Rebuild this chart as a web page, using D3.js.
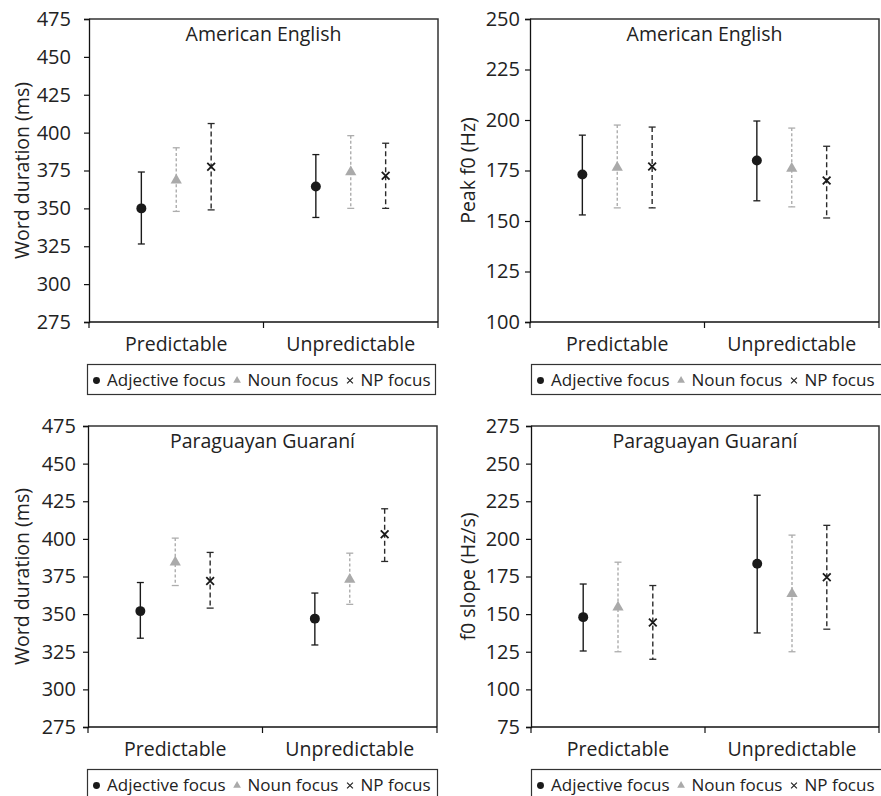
<!DOCTYPE html>
<html>
<head>
<meta charset="utf-8">
<script src="https://cdn.jsdelivr.net/npm/d3@7"></script>
<style>
  html, body { margin: 0; padding: 0; background: #fff; }
  svg { display: block; }
  text { font-family: "Open Sans", "Noto Sans", sans-serif; fill: #222; }
</style>
</head>
<body>
<svg id="chart" width="881" height="796"></svg>
<script>
// ---------------- data ----------------
const categories = ["Predictable", "Unpredictable"];
const seriesNames = ["Adjective focus", "Noun focus", "NP focus"];
const panelTitles = ["American English", "American English", "Paraguayan Guaraní", "Paraguayan Guaraní"];
const yLabels = ["Word duration (ms)", "Peak f0 (Hz)", "Word duration (ms)", "f0 slope (Hz/s)"];

const ticksDuration = [275, 300, 325, 350, 375, 400, 425, 450, 475];
const ticksPeakF0   = [100, 125, 150, 175, 200, 225, 250];
const ticksSlope    = [75, 100, 125, 150, 175, 200, 225, 250, 275];

// rows: Adjective focus, Noun focus, NP focus ; columns: Predictable, Unpredictable
const aeDurMean = [[350, 364.5], [368.5, 374], [377.5, 371.5]];
const aeDurLow  = [[326.5, 344], [348, 350], [349, 350]];
const aeDurHigh = [[374, 385.5], [390, 398], [406, 393]];

const aeF0Mean = [[173, 180], [176.5, 176], [177, 170]];
const aeF0Low  = [[153, 160], [156.5, 157], [156.5, 151.5]];
const aeF0High = [[192.5, 199.5], [197.5, 196], [196.5, 187]];

const pgDurMean = [[352, 347], [384.5, 373], [372, 403]];
const pgDurLow  = [[334, 329.5], [369, 356.5], [354, 385]];
const pgDurHigh = [[371, 364], [400.5, 390.5], [391, 420]];

const pgSlopeMean = [[148, 183.5], [154.5, 163.5], [144.5, 174.5]];
const pgSlopeLow  = [[125.5, 137.5], [125, 125], [120, 140]];
const pgSlopeHigh = [[170, 229], [184.5, 202.5], [169, 209]];

// ---------------- layout / styles ----------------
const panels = [
  { title: panelTitles[0], ylab: yLabels[0], ticks: ticksDuration, mean: aeDurMean, low: aeDurLow, high: aeDurHigh,
    l: 89, t: 19, r: 438, b: 322, pad: 13, labX: 22, legX: 87, legW: 348 },
  { title: panelTitles[1], ylab: yLabels[1], ticks: ticksPeakF0, mean: aeF0Mean, low: aeF0Low, high: aeF0High,
    l: 530, t: 19, r: 879, b: 322, pad: 5, labX: 468, legX: 531, legW: 360 },
  { title: panelTitles[2], ylab: yLabels[2], ticks: ticksDuration, mean: pgDurMean, low: pgDurLow, high: pgDurHigh,
    l: 88, t: 426, r: 437, b: 727, pad: 7, labX: 22, legX: 87, legW: 350 },
  { title: panelTitles[3], ylab: yLabels[3], ticks: ticksSlope, mean: pgSlopeMean, low: pgSlopeLow, high: pgSlopeHigh,
    l: 531, t: 426, r: 879, b: 727, pad: 6, labX: 468, legX: 531, legW: 360 }
];

const seriesStyle = [
  { stroke: "#1a1a1a", dash: null, fill: "#1a1a1a", sym: "circle", size: 78 },
  { stroke: "#adadad", dash: "3,2.2", fill: "#aaaaaa", sym: "triangle", size: 55 },
  { stroke: "#2a2a2a", dash: "5,3", fill: "none", sym: "times", size: 60 }
];

const symbolTimesCustom = {
  draw(context, size) {
    const r = Math.sqrt(size) / 2;
    context.moveTo(-r, -r); context.lineTo(r, r);
    context.moveTo(r, -r); context.lineTo(-r, r);
  }
};
function symType(name) {
  if (name === "circle") return d3.symbolCircle;
  if (name === "triangle") return d3.symbolTriangle;
  return symbolTimesCustom;
}

const svg = d3.select("#chart");

panels.forEach(p => {
  const g = svg.append("g");
  const y = d3.scaleLinear().domain([p.ticks[0], p.ticks[p.ticks.length - 1]]).range([p.b, p.t]);
  const x0 = d3.scaleBand().domain(categories).range([p.l, p.r]).padding(0);
  const x1 = d3.scalePoint().domain(seriesNames).range([0.3 * x0.bandwidth(), 0.7 * x0.bandwidth()]);

  // frame (top + right)
  g.append("path")
    .attr("d", `M${p.l},${p.t}H${p.r}V${p.b}`)
    .attr("fill", "none").attr("stroke", "#333").attr("stroke-width", 1.5);

  // y axis
  const ya = g.append("g").attr("transform", `translate(${p.l},0)`)
    .call(d3.axisLeft(y).tickValues(p.ticks).tickSize(5).tickPadding(p.pad).tickFormat(d3.format("d")));
  ya.select(".domain").attr("stroke", "#111").attr("stroke-width", 1.3);
  ya.selectAll(".tick line").attr("stroke", "#111").attr("stroke-width", 1.2);
  ya.selectAll(".tick text").style("font-family", '"Open Sans", sans-serif').style("font-size", "20px").attr("fill", "#222");

  // x axis: ticks at band boundaries
  const xa = g.append("g").attr("transform", `translate(0,${p.b})`);
  xa.append("line").attr("x1", p.l).attr("x2", p.r).attr("stroke", "#111").attr("stroke-width", 1.3);
  const bounds = [x0(categories[0]), x0(categories[1]), x0(categories[1]) + x0.bandwidth()];
  xa.selectAll("line.tk").data(bounds).enter().append("line").attr("class", "tk")
    .attr("x1", d => d).attr("x2", d => d).attr("y1", 0).attr("y2", 6)
    .attr("stroke", "#111").attr("stroke-width", 1.2);
  xa.selectAll("text.cat").data(categories).enter().append("text").attr("class", "cat")
    .attr("x", d => x0(d) + x0.bandwidth() / 2).attr("y", 28.5)
    .attr("text-anchor", "middle").style("font-size", "19.5px").text(d => d);

  // title
  g.append("text").attr("x", (p.l + p.r) / 2).attr("y", p.t + 21.5)
    .attr("text-anchor", "middle").style("font-size", "19.5px").text(p.title);

  // y label
  g.append("text")
    .attr("transform", `translate(${p.labX},${(p.t + p.b) / 2}) rotate(-90)`)
    .attr("text-anchor", "middle").attr("dy", "0.35em").style("font-size", "19.5px").text(p.ylab);

  // error bars + points
  seriesNames.forEach((s, si) => {
    const st = seriesStyle[si];
    categories.forEach((c, ci) => {
      const cx = x0(c) + x1(s);
      const m = p.mean[si][ci], lo = p.low[si][ci], hi = p.high[si][ci];
      const eg = g.append("g");
      eg.append("line").attr("x1", cx).attr("x2", cx).attr("y1", y(hi)).attr("y2", y(lo))
        .attr("stroke", st.stroke).attr("stroke-width", 1.4).attr("stroke-dasharray", st.dash);
      [hi, lo].forEach(v => {
        eg.append("line").attr("x1", cx - 3.5).attr("x2", cx + 3.5).attr("y1", y(v)).attr("y2", y(v))
          .attr("stroke", st.stroke).attr("stroke-width", 1.3);
      });
      eg.append("path")
        .attr("d", d3.symbol().type(symType(st.sym)).size(st.size)())
        .attr("transform", `translate(${cx},${y(m)})`)
        .attr("fill", st.fill)
        .attr("stroke", st.sym === "times" ? "#1a1a1a" : "none")
        .attr("stroke-width", 1.8);
    });
  });

  // legend
  const ly = p.b + 42.5;
  const lg = g.append("g");
  lg.append("rect").attr("x", p.legX + 0.5).attr("y", ly).attr("width", p.legW).attr("height", 30)
    .attr("fill", "#fff").attr("stroke", "#333").attr("stroke-width", 1.2);
  let cur = p.legX + 3;
  const legSize = [38, 26, 34];
  seriesNames.forEach((s, si) => {
    const st = seriesStyle[si];
    lg.append("path")
      .attr("d", d3.symbol().type(symType(st.sym)).size(legSize[si])())
      .attr("transform", `translate(${cur + 6.5},${ly + 16})`)
      .attr("fill", st.sym === "times" ? "none" : st.fill)
      .attr("stroke", st.sym === "times" ? "#222" : "none").attr("stroke-width", 1.2);
    const t = lg.append("text").attr("x", cur + 17).attr("y", ly + 21.7)
      .style("font-size", "17px").text(s);
    cur = cur + 17 + t.node().getComputedTextLength() + 5;
  });
});
</script>
</body>
</html>
